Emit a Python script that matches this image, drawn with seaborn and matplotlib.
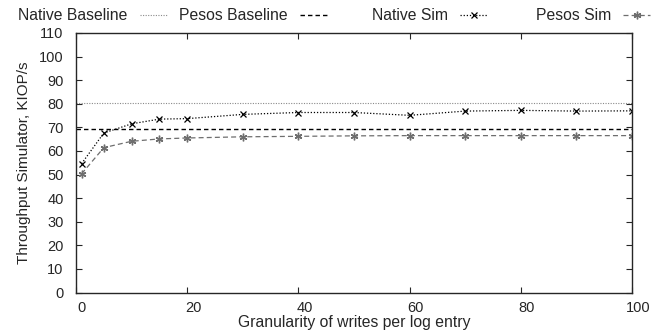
import numpy as np
import pandas as pd
import matplotlib
matplotlib.use("Agg")
import matplotlib.pyplot as plt
import matplotlib.transforms as mtransforms
import seaborn as sns

# data
granularity = [1, 5, 10, 15, 20, 30, 40, 50, 60, 70, 80, 90, 100]
native_sim = [54.6, 67.6, 71.5, 73.5, 73.7, 75.5, 76.3, 76.3, 75.1, 76.9, 77.2, 76.9, 77.0]
pesos_sim = [50.3, 61.4, 64.1, 65.1, 65.5, 66.0, 66.2, 66.4, 66.5, 66.5, 66.5, 66.5, 66.5]
native_baseline = 80.2
pesos_baseline = 69.2
x_ticks = [0, 20, 40, 60, 80, 100]
y_ticks = list(range(0, 111, 10))

sns.set_style("ticks")
plt.rcParams["font.family"] = ["Liberation Sans", "DejaVu Sans"]
plt.rcParams["xtick.direction"] = "in"
plt.rcParams["ytick.direction"] = "in"

df = pd.DataFrame({"x": granularity, "Native Sim": native_sim, "Pesos Sim": pesos_sim})

fig = plt.figure(figsize=(6.64, 3.35), dpi=100)
ax = fig.add_axes([76 / 664, 42.5 / 335, 556 / 664, 259.5 / 335])

h1 = ax.axhline(native_baseline, color="#8a8a8a", ls=(0, (1, 1.3)), lw=0.8)
h2 = ax.axhline(pesos_baseline, color="black", ls=(0, (3.2, 2.2)), lw=1.0)
sns.lineplot(data=df, x="x", y="Native Sim", ax=ax, color="black", ls=(0, (1, 1.5)), lw=0.9,
             marker="x", markersize=4.5, mew=0.9, mec="black", legend=False)
sns.lineplot(data=df, x="x", y="Pesos Sim", ax=ax, color="#6e6e6e", ls=(0, (4, 2.5)), lw=0.9,
             marker=(6, 2, 0), markersize=5.5, mew=1.0, mec="#6e6e6e", legend=False)
h3, h4 = ax.lines[2], ax.lines[3]

ax.set_xlim(0, 100)
ax.set_ylim(0, 110)
ax.set_xticks(x_ticks)
ax.set_yticks(y_ticks)
ax.tick_params(labelsize=10.5, length=4, width=0.8, top=True, right=True)
ax.tick_params(axis="y", pad=9)
ax.tick_params(axis="x", pad=6)
shift = mtransforms.ScaledTranslation(0.06, 0, fig.dpi_scale_trans)
for lab in ax.get_xticklabels():
    lab.set_transform(lab.get_transform() + shift)
for s in ax.spines.values():
    s.set_linewidth(1.0)
ax.set_xlabel("Granularity of writes per log entry", fontsize=11.3, labelpad=0)
ax.set_ylabel("Throughput Simulator, KIOP/s", fontsize=11, labelpad=6)

# gnuplot style key: label right-aligned before its sample, one row on top
labels = ["Native Baseline", "Pesos Baseline", "Native Sim", "Pesos Sim"]
col_ends = [167, 327, 487, 650]
for h, lab, xe in zip([h1, h2, h3, h4], labels, col_ends):
    fig.legend([h], [lab], loc="center right", bbox_to_anchor=(xe / 664, 1 - 16 / 335),
               markerfirst=False, frameon=False, fontsize=11.3, handlelength=1.7,
               handletextpad=0.8, borderpad=0, borderaxespad=0)

fig.savefig("out.png", dpi=100)
